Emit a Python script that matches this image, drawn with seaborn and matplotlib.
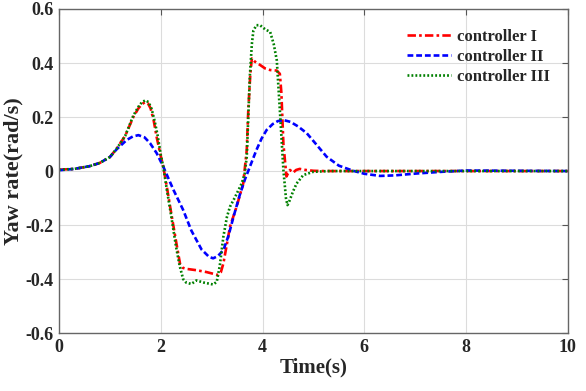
import numpy as np
import pandas as pd
import matplotlib
matplotlib.use("Agg")
import matplotlib.pyplot as plt
import seaborn as sns

# ---- data ----
t_c1 = [0, 0.3, 0.6, 0.8, 1.0, 1.13, 1.3, 1.46, 1.56, 1.63, 1.69, 1.75, 1.8, 1.86, 1.92, 2.0, 2.05, 2.12, 2.2, 2.3, 2.38, 2.43, 2.5, 2.7, 2.9, 3.13, 3.18, 3.23, 3.3, 3.36, 3.49, 3.62, 3.69, 3.72, 3.76, 3.79, 3.85, 3.95, 4.05, 4.15, 4.28, 4.34, 4.37, 4.41, 4.47, 4.51, 4.54, 4.6, 4.66, 4.73, 4.85, 5.0, 5.2, 6, 7, 8, 9, 10]
v_c1 = [0.005, 0.008, 0.018, 0.03, 0.052, 0.082, 0.13, 0.2, 0.232, 0.248, 0.255, 0.25, 0.232, 0.188, 0.125, 0.055, 0.016, -0.06, -0.15, -0.26, -0.345, -0.358, -0.362, -0.367, -0.374, -0.385, -0.375, -0.342, -0.27, -0.206, -0.132, -0.046, 0.078, 0.226, 0.36, 0.417, 0.405, 0.393, 0.38, 0.374, 0.372, 0.36, 0.29, 0.1, -0.02, -0.005, 0.004, -0.006, 0.004, 0.008, 0.004, 0.001, 0.0, 0.0, 0.0, 0.0, 0.0, 0.0]

t_c2 = [0, 0.3, 0.6, 0.8, 1.0, 1.13, 1.33, 1.45, 1.56, 1.68, 1.79, 1.92, 2.05, 2.25, 2.44, 2.6, 2.8, 2.95, 3.03, 3.12, 3.23, 3.33, 3.43, 3.55, 3.65, 3.77, 3.88, 3.98, 4.08, 4.2, 4.3, 4.41, 4.55, 4.7, 4.87, 5.05, 5.26, 5.5, 5.78, 6.0, 6.31, 6.6, 7.03, 7.5, 8, 9, 10]
v_c2 = [0.003, 0.008, 0.018, 0.03, 0.052, 0.08, 0.115, 0.128, 0.133, 0.125, 0.103, 0.066, 0.016, -0.07, -0.144, -0.22, -0.29, -0.318, -0.323, -0.315, -0.293, -0.24, -0.169, -0.09, -0.033, 0.025, 0.078, 0.12, 0.152, 0.174, 0.185, 0.189, 0.182, 0.165, 0.14, 0.1, 0.053, 0.02, 0.001, -0.01, -0.018, -0.016, -0.009, -0.003, 0.002, 0.001, 0.0]

t_c3 = [0, 0.3, 0.6, 0.8, 1.0, 1.13, 1.3, 1.46, 1.56, 1.63, 1.7, 1.76, 1.82, 1.88, 1.94, 2.0, 2.05, 2.12, 2.2, 2.3, 2.37, 2.44, 2.5, 2.6, 2.7, 2.85, 3.03, 3.1, 3.16, 3.23, 3.3, 3.36, 3.45, 3.59, 3.65, 3.69, 3.72, 3.75, 3.79, 3.82, 3.88, 3.95, 4.05, 4.15, 4.22, 4.28, 4.34, 4.41, 4.46, 4.49, 4.53, 4.6, 4.67, 4.8, 4.99, 5.3, 6, 7, 8, 9, 10]
v_c3 = [0.005, 0.008, 0.018, 0.03, 0.052, 0.082, 0.13, 0.205, 0.238, 0.255, 0.262, 0.255, 0.23, 0.185, 0.13, 0.06, 0.015, -0.07, -0.16, -0.28, -0.35, -0.4, -0.413, -0.418, -0.405, -0.413, -0.42, -0.41, -0.35, -0.243, -0.17, -0.132, -0.1, -0.046, -0.01, 0.053, 0.2, 0.35, 0.47, 0.52, 0.54, 0.54, 0.525, 0.515, 0.47, 0.41, 0.226, 0.004, -0.1, -0.126, -0.11, -0.075, -0.046, -0.015, -0.003, 0.0, 0.0, 0.0, 0.0, 0.0, 0.0]

labels = ["controller I", "controller II", "controller III"]
colors = ["#ff0000", "#0000ff", "#008000"]
x_ticks = [0, 2, 4, 6, 8, 10]
y_ticks = [-0.6, -0.4, -0.2, 0, 0.2, 0.4, 0.6]

df = pd.concat([
    pd.DataFrame({"t": t_c1, "v": v_c1, "series": labels[0]}),
    pd.DataFrame({"t": t_c2, "v": v_c2, "series": labels[1]}),
    pd.DataFrame({"t": t_c3, "v": v_c3, "series": labels[2]}),
])

sns.set_style("white")
plt.rcParams["font.family"] = ["Liberation Serif", "DejaVu Serif"]
plt.rcParams["font.weight"] = "bold"

fig = plt.figure(figsize=(5.86, 3.91), dpi=100)
ax = fig.add_axes([0.1007, 0.148, 0.8683, 0.829])

dash_styles = [(0, (3.2, 1.2, 1.0, 1.2)), (0, (2.2, 1.1)), (0, (0.7, 0.8))]
for lab, col, ls in zip(labels, colors, dash_styles):
    sub = df[df["series"] == lab]
    sns.lineplot(data=sub, x="t", y="v", ax=ax, color=col, lw=1.9,
                 label=lab, sort=False, estimator=None)
    ax.lines[-1].set_linestyle(ls)

ax.set_xlim(0, 10)
ax.set_ylim(-0.6, 0.6)
ax.set_xticks(x_ticks)
ax.set_yticks(y_ticks)
ax.set_xticklabels([f"{v:g}" for v in x_ticks], fontsize=13, fontweight="bold")
ax.set_yticklabels([f"{v:g}" for v in y_ticks], fontsize=13, fontweight="bold")
ax.grid(True, color="#dcdcdc", lw=0.8)
ax.tick_params(direction="in", top=True, right=True, length=4, color="#555555", pad=4)
for s in ax.spines.values():
    s.set_color("#666666")
    s.set_linewidth(1.0)
ax.set_xlabel("Time(s)", fontsize=15, fontweight="bold", labelpad=1)
ax.set_ylabel("Yaw rate(rad/s)", fontsize=16, fontweight="bold", labelpad=1)

leg = ax.legend(loc="upper right", frameon=False, fontsize=12, handlelength=2.6,
                bbox_to_anchor=(0.995, 0.985), labelspacing=0.25, handletextpad=0.4)
for txt in leg.get_texts():
    txt.set_fontweight("bold")

fig.savefig("out.png", dpi=100)
